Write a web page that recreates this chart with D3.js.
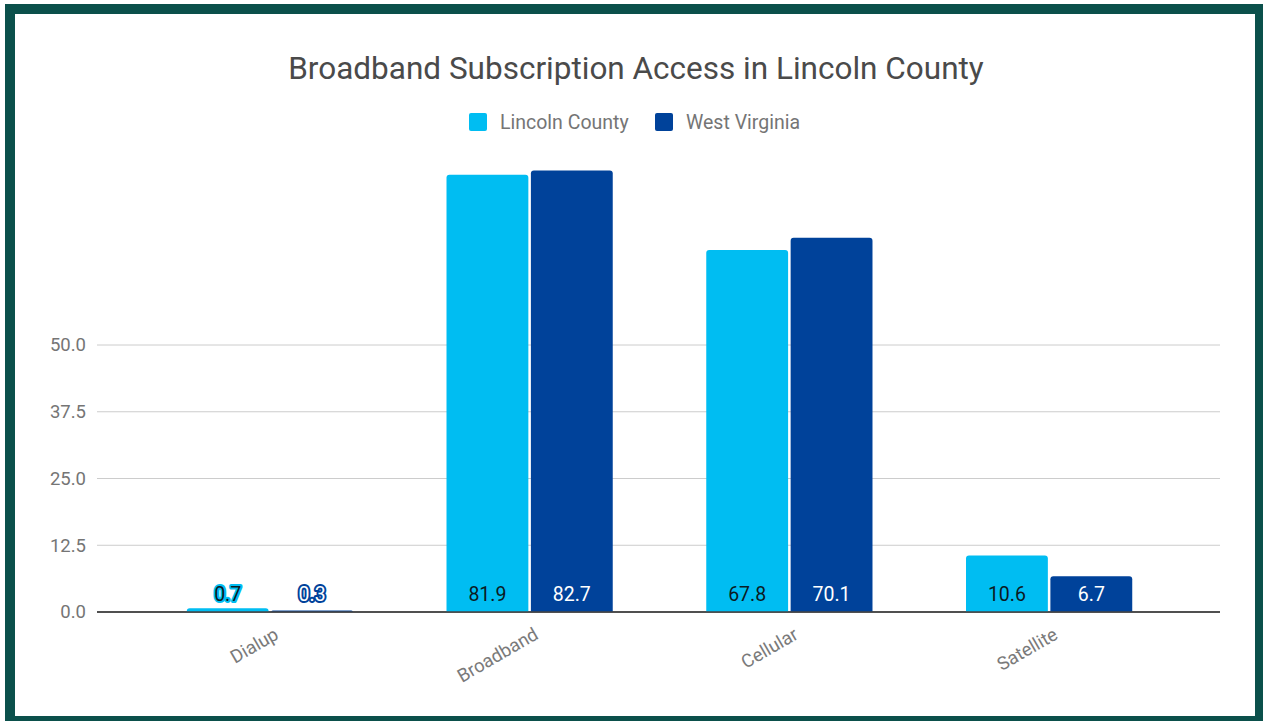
<!DOCTYPE html>
<html><head><meta charset="utf-8">
<script src="https://cdn.jsdelivr.net/npm/d3@7"></script>
<style>html,body{margin:0;padding:0;background:#fff;}svg{display:block;font-family:Roboto,"Noto Sans",sans-serif;}</style>
</head><body>
<svg id="c" width="1263" height="721"></svg>
<script>
const categories = ["Dialup", "Broadband", "Cellular", "Satellite"];
const seriesNames = ["Lincoln County", "West Virginia"];
const lincoln = [0.7, 81.9, 67.8, 10.6];
const westVirginia = [0.3, 82.7, 70.1, 6.7];
const yTicks = [0, 12.5, 25, 37.5, 50];
const colors = ["#00bdf2", "#00429a"];
const labelFill = ["#0b1a22", "#ffffff"];

const svg = d3.select("#c");
// frame
svg.append("rect").attr("x",5).attr("y",4).attr("width",1270).attr("height",730).attr("fill","#0b504b");
svg.append("rect").attr("x",15).attr("y",14).attr("width",1240).attr("height",702).attr("fill","#ffffff");

const y = d3.scaleLinear().domain([0, 50]).range([612, 345]);
const x0 = d3.scaleBand().domain(categories).range([140, 1179]).paddingInner(0.36).paddingOuter(0.18);
const x1 = d3.scaleBand().domain(seriesNames).range([0, x0.bandwidth()]).paddingInner(0.03);

// title
svg.append("text").attr("x",636).attr("y",79).attr("text-anchor","middle")
  .attr("font-size",31.5).attr("fill","#4a4a4a").text("Broadband Subscription Access in Lincoln County");

// legend
const leg = [{x:469, tx:500}, {x:655, tx:686}];
seriesNames.forEach((s,i)=>{
  svg.append("rect").attr("x",leg[i].x).attr("y",113).attr("width",18).attr("height",18).attr("rx",2).attr("fill",colors[i]);
  svg.append("text").attr("x",leg[i].tx).attr("y",129).attr("font-size",19.5).attr("fill","#757575").text(s);
});

// gridlines
const gridG = svg.append("g");
yTicks.forEach(t=>{
  gridG.append("line").attr("x1",97).attr("x2",1220).attr("y1",y(t)).attr("y2",y(t))
    .attr("stroke", t===0 ? "#444" : "#cccccc").attr("stroke-width", t===0?1.5:1);
  gridG.append("text").attr("x",86).attr("y",y(t)).attr("dy","0.35em").attr("text-anchor","end")
    .attr("font-size",18.5).attr("fill","#757575").text(d3.format(".1f")(t));
});

const data = categories.map((c,i)=>({cat:c, vals:[lincoln[i], westVirginia[i]]}));

function topRounded(x, yTop, w, h, r){
  r = Math.min(r, h, w/2);
  const yb = yTop + h;
  return `M${x},${yb}V${yTop+r}Q${x},${yTop} ${x+r},${yTop}H${x+w-r}Q${x+w},${yTop} ${x+w},${yTop+r}V${yb}Z`;
}

const groups = svg.append("g").selectAll("g").data(data).join("g")
  .attr("transform", d=>`translate(${x0(d.cat)},0)`);

groups.each(function(d){
  const g = d3.select(this);
  d.vals.forEach((v,i)=>{
    const bx = x1(seriesNames[i]), bw = x1.bandwidth();
    g.append("path").attr("d", topRounded(bx, y(v), bw, y(0)-y(v), 3)).attr("fill", colors[i]);
  });
  d.vals.forEach((v,i)=>{
    const bx = x1(seriesNames[i]), bw = x1.bandwidth();
    g.append("text").attr("x", bx+bw/2).attr("y", y(0)-11).attr("text-anchor","middle")
      .attr("font-size",19.5).attr("fill", labelFill[i])
      .attr("stroke", colors[i]).attr("stroke-width",4).attr("stroke-linejoin","round")
      .attr("paint-order","stroke").text(d3.format(".1f")(v));
  });
});

// baseline again on top
svg.append("line").attr("x1",97).attr("x2",1220).attr("y1",y(0)).attr("y2",y(0)).attr("stroke","#444").attr("stroke-width",1.5);

// x labels
categories.forEach(c=>{
  const cx = x0(c) + x0.bandwidth()/2 + 10;
  svg.append("text").attr("transform",`translate(${cx},638) rotate(-30)`)
    .attr("text-anchor","end").attr("font-size",18.5).attr("fill","#7a7a7a").text(c);
});
</script>
</body></html>
